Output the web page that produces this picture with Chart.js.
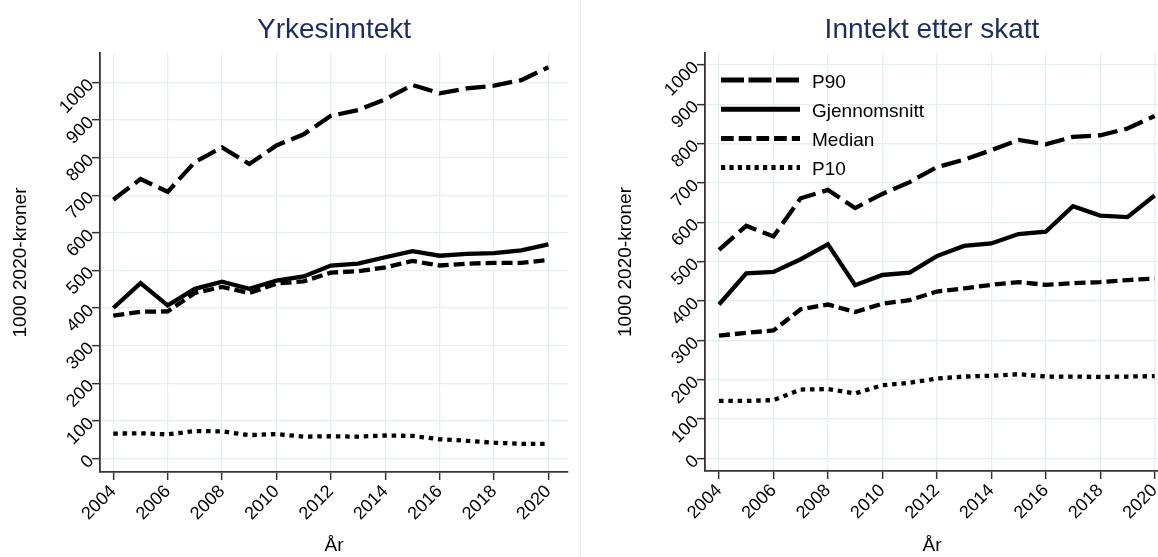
<!DOCTYPE html>
<html><head><meta charset="utf-8">
<script src="https://cdn.jsdelivr.net/npm/chart.js@4.4.0/dist/chart.umd.min.js"></script>
<style>
html,body{margin:0;padding:0;background:#fff;}
#wrap{position:relative;width:1158px;height:557px;overflow:hidden;background:#fff;}
#c1box{position:absolute;left:0;top:0;width:580px;height:557px;}
#c2box{position:absolute;left:580px;top:0;width:578px;height:557px;overflow:hidden;border-left:1px solid #f0f0f0;box-sizing:border-box;}
#c2inner{position:absolute;left:-1px;top:0;width:600px;height:557px;}
</style></head><body>
<div id="wrap">
  <div id="c1box"><canvas id="c1"></canvas></div>
  <div id="c2box"><div id="c2inner"><canvas id="c2"></canvas></div></div>
</div>
<script>
// ---- data ----
const years = [2004,2005,2006,2007,2008,2009,2010,2011,2012,2013,2014,2015,2016,2017,2018,2019,2020];
const xTicks = [2004,2006,2008,2010,2012,2014,2016,2018,2020];
const yTicks = [0,100,200,300,400,500,600,700,800,900,1000];
const seriesNames = ['P90','Gjennomsnitt','Median','P10'];
const titles = ['Yrkesinntekt','Inntekt etter skatt'];
const yTitle = '1000 2020-kroner';
const xTitle = 'År';

// Yrkesinntekt
const yrkP90    = [688,743,709,788,827,783,832,862,911,926,955,993,971,984,991,1006,1040];
const yrkMean   = [400,466,407,451,470,451,473,484,513,518,535,551,539,544,546,553,569];
const yrkMedian = [380,390,391,440,456,440,465,471,494,498,508,525,513,518,520,520,528];
const yrkP10    = [66,67,64,73,72,62,65,58,59,58,61,60,51,47,42,39,39];

// Inntekt etter skatt
const skP90    = [530,591,564,661,682,636,672,702,740,759,783,809,798,817,821,838,870];
const skMean   = [391,470,474,506,544,440,466,472,514,540,546,570,576,641,617,613,668];
const skMedian = [312,319,325,379,391,372,393,402,424,432,441,448,441,445,448,453,457];
const skP10    = [146,146,148,175,176,165,186,192,203,208,210,214,208,208,207,208,209];

// ---- styles ----
const dashes = [[20,7], [], [11,5], [4.5,4.8]];
const legendDashes = [[23,4.5], [], [12.7,5], [4.2,4.2]];
const FONT = "'Liberation Sans', Arial, Helvetica, sans-serif";

function pts(arr){ return years.map((y,i)=>({x:y, y:arr[i]})); }

// legend drawn inside the chart area (top-left), like the reference
const insideLegend = {
  id:'insideLegend',
  afterDatasetsDraw(chart, args, opts){
    if(!opts || !opts.show) return;
    const ctx = chart.ctx, ca = chart.chartArea;
    ctx.save();
    chart.data.datasets.forEach((ds,i)=>{
      const y = ca.top + 27 + i*29.2;
      const x0 = ca.left + 16;
      ctx.beginPath();
      ctx.setLineDash(legendDashes[i]);
      ctx.lineCap='butt';
      ctx.lineWidth=5;
      ctx.strokeStyle='#000';
      ctx.moveTo(x0,y); ctx.lineTo(x0+79,y);
      ctx.stroke();
      ctx.setLineDash([]);
      ctx.fillStyle='#000';
      ctx.font = "19px " + FONT;
      ctx.textBaseline='alphabetic';
      ctx.textAlign='left';
      ctx.fillText(ds.label, x0+91, y+7.5);
    });
    ctx.restore();
  }
};

function makeChart(id, title, seriesList, cfg){
  const datasets = seriesList.map((s,i)=>({
    label: seriesNames[i],
    data: pts(s),
    borderColor:'#000',
    backgroundColor:'#000',
    borderWidth:4.3,
    borderDash:dashes[i],
    borderCapStyle:'butt',
    borderJoinStyle:'miter',
    pointRadius:0,
    tension:0,
    fill:false
  }));
  return new Chart(document.getElementById(id), {
    type:'line',
    data:{datasets},
    plugins:[insideLegend],
    options:{
      responsive:true,
      maintainAspectRatio:false,
      animation:false,
      devicePixelRatio:1,
      layout:{padding:{left:0,right:cfg.padRight,top:0,bottom:0}},
      plugins:{
        title:{display:true,text:title,color:'#1e2d5c',fullSize:false,
          font:{family:FONT,size:28,weight:'normal'},padding:{top:13,bottom:6.4}},
        tooltip:{enabled:false},
        legend:{display:false},
        insideLegend:{show:cfg.legend}
      },
      scales:{
        x:{
          type:'linear', min:cfg.xMin, max:cfg.xMax,
          afterBuildTicks:(s)=>{ s.ticks = xTicks.map(v=>({value:v})); },
          afterFit:(s)=>{ s.height = cfg.xHeight; },
          ticks:{minRotation:45,maxRotation:45,autoSkip:false,padding:1,color:'#000',
            font:{family:FONT,size:18},callback:(v)=>String(v)},
          grid:{color:'#e6eef0',lineWidth:1.3,tickColor:'#333',tickWidth:1.5,tickLength:8,drawOnChartArea:true},
          border:{display:true,color:'#333',width:1.8},
          title:{display:true,text:xTitle,color:'#000',font:{family:FONT,size:19},padding:{top:0,bottom:0}}
        },
        y:{
          type:'linear', min:cfg.yMin, max:cfg.yMax,
          afterBuildTicks:(s)=>{ s.ticks = yTicks.map(v=>({value:v})); },
          afterFit:(s)=>{ s.width = cfg.yWidth; },
          ticks:{minRotation:45,maxRotation:45,padding:1,color:'#000',
            font:{family:FONT,size:18},callback:(v)=>String(v)},
          grid:{color:'#e6eef0',lineWidth:1.3,tickColor:'#333',tickWidth:1.5,tickLength:8,drawOnChartArea:true},
          border:{display:true,color:'#333',width:1.8},
          title:{display:true,text:yTitle,color:'#000',font:{family:FONT,size:19},padding:{top:cfg.yTitlePad,bottom:0}}
        }
      }
    }
  });
}

makeChart('c1', titles[0], [yrkP90,yrkMean,yrkMedian,yrkP10], {
  padRight:12, xMin:2003.51, xMax:2020.72, yMin:-36, yMax:1078,
  xHeight:85, yWidth:100, yTitlePad:9, legend:false
});
makeChart('c2', titles[1], [skP90,skMean,skMedian,skP10], {
  padRight:21, xMin:2003.485, xMax:2020.16, yMin:-32, yMax:1030,
  xHeight:86, yWidth:125, yTitlePad:34, legend:true
});
</script>
</body></html>
